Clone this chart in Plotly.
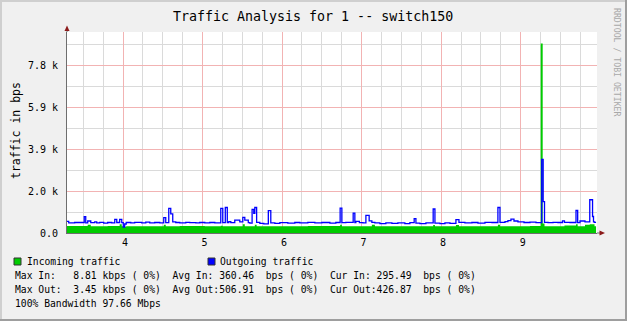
import plotly.graph_objects as go

# ---------------- data ----------------
out_hours = [3.295, 3.317, 3.392, 3.512, 3.531, 3.556, 3.594, 3.644, 3.669, 3.707, 3.757, 3.807,
             3.858, 3.896, 3.921, 3.958, 3.984, 4.003, 4.021, 4.040, 4.097, 4.147, 4.235, 4.286,
             4.336, 4.399, 4.462, 4.512, 4.537, 4.575, 4.600, 4.625, 4.663, 4.713, 4.789, 4.839,
             4.915, 4.965, 5.028, 5.091, 5.154, 5.229, 5.254, 5.286, 5.311, 5.330, 5.355, 5.405,
             5.468, 5.506, 5.531, 5.575, 5.594, 5.623, 5.644, 5.657, 5.680, 5.720, 5.770, 5.827,
             5.858, 5.909, 5.972, 6.072, 6.160, 6.223, 6.324, 6.412, 6.500, 6.601, 6.676, 6.730,
             6.752, 6.802, 6.894, 6.915, 6.928, 6.972, 7.016, 7.054, 7.095, 7.129, 7.167, 7.230,
             7.305, 7.381, 7.456, 7.544, 7.607, 7.661, 7.683, 7.733, 7.809, 7.900, 7.922, 7.985,
             8.048, 8.111, 8.186, 8.224, 8.299, 8.387, 8.463, 8.551, 8.639, 8.714, 8.740, 8.803,
             8.840, 8.878, 8.916, 8.966, 9.042, 9.117, 9.193, 9.265, 9.283, 9.300, 9.344, 9.407,
             9.469, 9.526, 9.551, 9.620, 9.696, 9.717, 9.746, 9.809, 9.869, 9.904, 9.916, 9.929,
             9.948]
out_bps = [540, 470, 490, 760, 470, 560, 480, 520, 470, 500, 460, 490,
           470, 640, 490, 640, 480, 270, 420, 490, 470, 500, 470, 510,
           470, 490, 470, 713, 480, 1150, 890, 520, 490, 470, 500, 480,
           470, 490, 470, 490, 470, 1150, 480, 1190, 490, 530, 480, 600,
           520, 730, 600, 480, 460, 1100, 920, 1190, 500, 450, 430, 1040,
           470, 450, 480, 460, 490, 470, 500, 470, 490, 460, 490, 1160,
           480, 500, 930, 490, 540, 480, 470, 820, 570, 500, 470, 440,
           470, 450, 470, 440, 480, 670, 460, 440, 470, 1120, 460, 440,
           470, 450, 620, 500, 470, 490, 460, 500, 490, 1190, 500, 530,
           580, 650, 560, 520, 490, 510, 480, 3430, 1460, 500, 480, 500,
           490, 570, 500, 490, 1050, 480, 560, 520, 1550, 770, 520, 500,
           500]

in_hours = [3.295, 3.556, 3.594, 3.707, 3.807, 3.958, 3.984, 4.003, 4.040, 4.336, 4.512, 4.537,
            4.713, 5.028, 5.229, 5.254, 5.506, 5.531, 5.657, 5.680, 5.972, 6.324, 6.730, 6.752,
            7.129, 7.167, 7.544, 7.900, 7.922, 8.186, 8.224, 8.714, 8.740, 9.117, 9.252, 9.277,
            9.300, 9.551, 9.696, 9.717, 9.809, 9.869, 9.929, 9.948]
in_bps = [330, 390, 320, 310, 330, 410, 320, 290, 320, 310, 390, 320,
          330, 310, 340, 320, 410, 320, 390, 320, 310, 330, 390, 320,
          380, 320, 310, 370, 320, 370, 310, 390, 320, 330, 8840, 440,
          320, 350, 410, 320, 390, 410, 320, 300]

x_tick_vals = [4, 5, 6, 7, 8, 9]
x_tick_text = ["4", "5", "6", "7", "8", "9"]
x_minor_vals = [3.5, 3.75, 4.25, 4.5, 4.75, 5.25, 5.5, 5.75, 6.25, 6.5, 6.75,
                7.25, 7.5, 7.75, 8.25, 8.5, 8.75, 9.25, 9.5, 9.75]
y_tick_vals = [0, 1953.125, 3906.25, 5859.375, 7812.5]
y_tick_text = ["0.0", "2.0 k", "3.9 k", "5.9 k", "7.8 k"]
y_minor_vals = [976.5625, 2929.6875, 4882.8125, 6835.9375, 8789.0625]

title_text = "Traffic Analysis for 1 -- switch150"
y_title_text = "traffic in bps"
watermark_text = "RRDTOOL / TOBI OETIKER"
legend_names = ["Incoming traffic", "Outgoing traffic"]
stat_lines = [
    "Max In:   8.81 kbps ( 0%)  Avg In: 360.46  bps ( 0%)  Cur In: 295.49  bps ( 0%)",
    "Max Out:  3.45 kbps ( 0%)  Avg Out:506.91  bps ( 0%)  Cur Out:426.87  bps ( 0%)",
    "100% Bandwidth 97.66 Mbps",
]

# ---------------- styling / layout ----------------
W, H = 627, 321
L, R, T, B = 67, 597, 32, 233
MONO = "DejaVu Sans Mono"
GREEN = "#00cc00"
BLUE = "#0000ff"
MAJOR = "#f2b3b3"
MINOR = "#dadada"


def px(x):
    return (x - L) / (R - L)


def py(y):
    return (B - y) / (B - T)


fig = go.Figure()
fig.add_trace(go.Scatter(x=in_hours, y=in_bps, mode="lines",
                         line=dict(shape="hv", width=0, color=GREEN),
                         fill="tozeroy", fillcolor=GREEN, hoverinfo="skip"))
fig.add_trace(go.Scatter(x=out_hours, y=out_bps, mode="lines",
                         line=dict(shape="hv", width=1.3, color=BLUE), hoverinfo="skip"))

fig.update_layout(
    width=W, height=H, margin=dict(l=L, r=W - R, t=T, b=H - B, pad=0),
    paper_bgcolor="#f0f0f0", plot_bgcolor="#ffffff", showlegend=False,
    font=dict(family=MONO, size=10, color="#000000"),
    xaxis=dict(range=[3.2954, 9.960], tickmode="array", tickvals=x_tick_vals,
               ticktext=x_tick_text, showgrid=True, gridcolor=MAJOR, gridwidth=1,
               zeroline=False, showline=True, linecolor="#6e6e6e", linewidth=1,
               ticks="", ticklabelshift=2, tickfont=dict(family=MONO, size=10),
               minor=dict(tickmode="array", tickvals=x_minor_vals, showgrid=True,
                          gridcolor=MINOR, gridwidth=1, ticks="")),
    yaxis=dict(range=[0, 9375], tickmode="array", tickvals=y_tick_vals,
               ticktext=y_tick_text, showgrid=True, gridcolor=MAJOR, gridwidth=1,
               zeroline=False, showline=True, linecolor="#6e6e6e", linewidth=1,
               ticks="", ticklabelstandoff=6, tickfont=dict(family=MONO, size=10),
               minor=dict(tickmode="array", tickvals=y_minor_vals, showgrid=True,
                          gridcolor=MINOR, gridwidth=1, ticks="")),
)

shapes = []
# 3D frame
shapes.append(dict(type="rect", xref="paper", yref="paper", x0=px(0), x1=px(W), y0=py(0), y1=py(2),
                   fillcolor="#cfcfcf", line=dict(width=0), layer="above"))
shapes.append(dict(type="rect", xref="paper", yref="paper", x0=px(0), x1=px(2), y0=py(0), y1=py(H),
                   fillcolor="#cfcfcf", line=dict(width=0), layer="above"))
shapes.append(dict(type="rect", xref="paper", yref="paper", x0=px(0), x1=px(W), y0=py(H - 2), y1=py(H),
                   fillcolor="#9e9e9e", line=dict(width=0), layer="above"))
shapes.append(dict(type="rect", xref="paper", yref="paper", x0=px(W - 2), x1=px(W), y0=py(0), y1=py(H),
                   fillcolor="#9e9e9e", line=dict(width=0), layer="above"))
# axis extensions
shapes.append(dict(type="line", xref="paper", yref="paper", x0=px(R), x1=px(600), y0=py(B), y1=py(B),
                   line=dict(color="#6e6e6e", width=1)))
shapes.append(dict(type="line", xref="paper", yref="paper", x0=px(L), x1=px(L), y0=py(T), y1=py(29),
                   line=dict(color="#6e6e6e", width=1)))
# arrows
shapes.append(dict(type="path", xref="paper", yref="paper",
                   path=f"M {px(67)} {py(25.5)} L {px(64.5)} {py(31)} L {px(69.5)} {py(31)} Z",
                   fillcolor="#8b1a1a", line=dict(width=0)))
shapes.append(dict(type="path", xref="paper", yref="paper",
                   path=f"M {px(605)} {py(233)} L {px(599.5)} {py(230.5)} L {px(599.5)} {py(235.5)} Z",
                   fillcolor="#8b1a1a", line=dict(width=0)))
# legend swatches
shapes.append(dict(type="rect", xref="paper", yref="paper", x0=px(14), x1=px(21), y0=py(258), y1=py(265),
                   fillcolor=GREEN, line=dict(color="#333333", width=1)))
shapes.append(dict(type="rect", xref="paper", yref="paper", x0=px(208), x1=px(215), y0=py(258), y1=py(265),
                   fillcolor=BLUE, line=dict(color="#333333", width=1)))
fig.update_layout(shapes=shapes)

ann = []


def text(x, y, s, size=9.7, color="#000000", xanchor="left", angle=0):
    ann.append(dict(xref="paper", yref="paper", x=px(x), y=py(y), text=s.replace(" ", "\u00a0"),
                    showarrow=False, xanchor=xanchor, yanchor="middle", textangle=angle,
                    font=dict(family=MONO, size=size, color=color), borderpad=0))


text(313, 16.5, title_text, size=13.3, xanchor="center")
text(16, 131, y_title_text, size=11.5, xanchor="center", angle=-90)
text(617, 62, watermark_text, size=8.2, color="#a8a8a8", xanchor="center", angle=90)
text(25.5, 261.5, legend_names[0])
text(219, 261.5, legend_names[1])
for i, s in enumerate(stat_lines):
    text(13.5, 275 + 14 * i, s)
fig.update_layout(annotations=ann)

fig.write_html("out.html")
